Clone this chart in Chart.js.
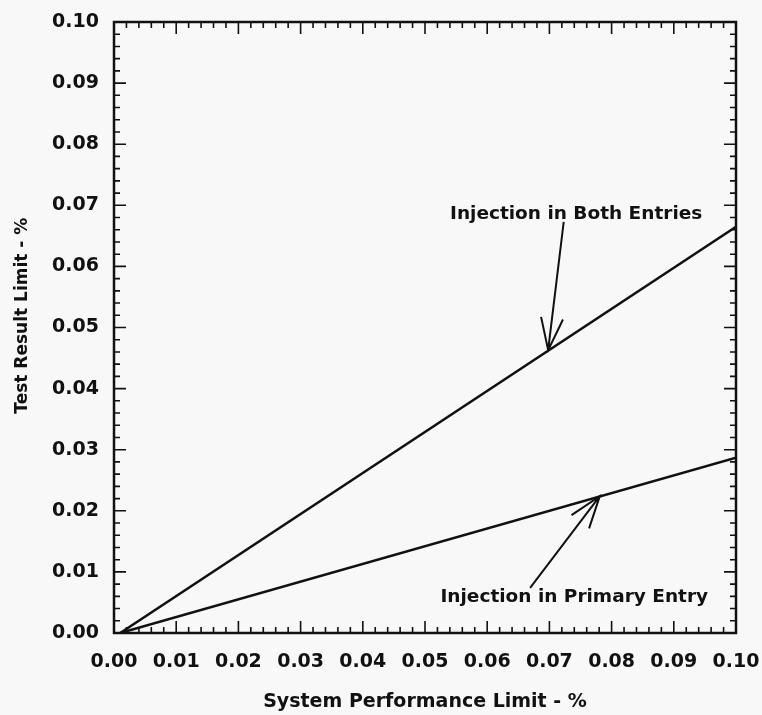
<!DOCTYPE html>
<html>
<head>
<meta charset="utf-8">
<script src="https://cdn.jsdelivr.net/npm/chart.js@4/dist/chart.umd.min.js"></script>
<style>
    html, body { margin: 0; padding: 0; background: #f8f8f8; }
    #wrap { width: 762px; height: 715px; }
</style>
</head>
<body>
<div id="wrap"><canvas id="chart" width="762" height="715"></canvas></div>
<script>
// Line end points
const limitX = [0.001, 0.1];
const bothEntries = [0, 0.0665];
const primaryEntry = [0, 0.0287];

const xTickLabels = ['0.00', '0.01', '0.02', '0.03', '0.04', '0.05', '0.06', '0.07', '0.08', '0.09', '0.10'];
const yTickLabels = ['0.00', '0.01', '0.02', '0.03', '0.04', '0.05', '0.06', '0.07', '0.08', '0.09', '0.10'];

// Annotations (data coordinates)
const noteTexts = ['Injection in Both Entries', 'Injection in Primary Entry'];
const noteAt = [[0.0743, 0.0686], [0.0740, 0.0059]];
const arrowFrom = [[0.0723, 0.0673], [0.0669, 0.0074]];
const arrowTo = [[0.0698, 0.0463], [0.0781, 0.0224]];

const FONT = '"DejaVu Sans", sans-serif';
const INK = '#111';

function toPoints(xs, ys) {
    return xs.map((x, i) => ({ x: x, y: ys[i] }));
}

/**
 * Box frame with inward major/minor ticks on all four sides
 */
const framePlugin = {
    id: 'frame',
    afterDatasetsDraw(chart) {
        const { ctx, chartArea: a, scales } = chart;
        ctx.save();
        ctx.strokeStyle = INK;
        ctx.lineWidth = 2.5;
        ctx.strokeRect(a.left, a.top, a.right - a.left, a.bottom - a.top);
        ctx.lineWidth = 1.6;
        ctx.beginPath();
        for (let i = 1; i < 50; i++) {
            const v = i * 0.002;
            const len = i % 5 === 0 ? 12 : 6;
            const px = scales.x.getPixelForValue(v);
            const py = scales.y.getPixelForValue(v);
            ctx.moveTo(px, a.bottom); ctx.lineTo(px, a.bottom - len);
            ctx.moveTo(px, a.top); ctx.lineTo(px, a.top + len);
            ctx.moveTo(a.left, py); ctx.lineTo(a.left + len, py);
            ctx.moveTo(a.right, py); ctx.lineTo(a.right - len, py);
        }
        ctx.stroke();
        ctx.restore();
    }
};

/**
 * Text labels with open-headed arrows pointing at the lines
 */
const notesPlugin = {
    id: 'notes',
    afterDatasetsDraw(chart) {
        const { ctx, scales } = chart;
        ctx.save();
        ctx.fillStyle = INK;
        ctx.strokeStyle = INK;
        ctx.font = 'bold 18.5px ' + FONT;
        ctx.textAlign = 'center';
        ctx.textBaseline = 'middle';
        noteTexts.forEach((t, i) => {
            ctx.fillText(t, scales.x.getPixelForValue(noteAt[i][0]), scales.y.getPixelForValue(noteAt[i][1]));
        });

        ctx.lineWidth = 2;
        arrowFrom.forEach((f, i) => {
            const x0 = scales.x.getPixelForValue(f[0]);
            const y0 = scales.y.getPixelForValue(f[1]);
            const x1 = scales.x.getPixelForValue(arrowTo[i][0]);
            const y1 = scales.y.getPixelForValue(arrowTo[i][1]);
            const ang = Math.atan2(y1 - y0, x1 - x0);
            const head = 34, spread = 0.33;
            ctx.beginPath();
            ctx.moveTo(x0, y0);
            ctx.lineTo(x1, y1);
            ctx.moveTo(x1 - head * Math.cos(ang - spread), y1 - head * Math.sin(ang - spread));
            ctx.lineTo(x1, y1);
            ctx.lineTo(x1 - head * Math.cos(ang + spread), y1 - head * Math.sin(ang + spread));
            ctx.stroke();
        });
        ctx.restore();
    }
};

const ctx = document.getElementById('chart').getContext('2d');

new Chart(ctx, {
    type: 'scatter',
    data: {
        datasets: [
            {
                label: 'Injection in Both Entries',
                data: toPoints(limitX, bothEntries),
                showLine: true,
                borderColor: INK,
                borderWidth: 2.5,
                pointRadius: 0
            },
            {
                label: 'Injection in Primary Entry',
                data: toPoints(limitX, primaryEntry),
                showLine: true,
                borderColor: INK,
                borderWidth: 2.5,
                pointRadius: 0
            }
        ]
    },
    options: {
        responsive: false,
        devicePixelRatio: 1,
        animation: false,
        layout: { padding: { left: 12, right: 26, top: 22, bottom: 2 } },
        plugins: {
            legend: { display: false },
            tooltip: { enabled: false }
        },
        scales: {
            x: {
                type: 'linear',
                min: 0,
                max: 0.1,
                grid: { display: false, drawTicks: false },
                border: { display: false },
                ticks: {
                    stepSize: 0.01,
                    padding: 18,
                    color: INK,
                    maxRotation: 0,
                    autoSkip: false,
                    font: { family: FONT, size: 19, weight: 'bold' },
                    callback: (v, i) => xTickLabels[i]
                },
                title: {
                    display: true,
                    text: 'System Performance Limit - %',
                    color: INK,
                    padding: 0,
                    font: { family: FONT, size: 19, weight: 'bold' }
                },
                afterFit: s => { s.height = 80; s.paddingLeft = 0; s.paddingRight = 0; }
            },
            y: {
                type: 'linear',
                min: 0,
                max: 0.1,
                grid: { display: false, drawTicks: false },
                border: { display: false },
                ticks: {
                    stepSize: 0.01,
                    padding: 15,
                    color: INK,
                    autoSkip: false,
                    font: { family: FONT, size: 19, weight: 'bold' },
                    callback: (v, i) => yTickLabels[i]
                },
                title: {
                    display: true,
                    text: '    Test Result Limit - %',
                    color: INK,
                    padding: 0,
                    font: { family: FONT, size: 17, weight: 'bold' }
                },
                afterFit: s => { s.width = 102; s.paddingTop = 0; s.paddingBottom = 0; }
            }
        }
    },
    plugins: [framePlugin, notesPlugin]
});
</script>
</body>
</html>
